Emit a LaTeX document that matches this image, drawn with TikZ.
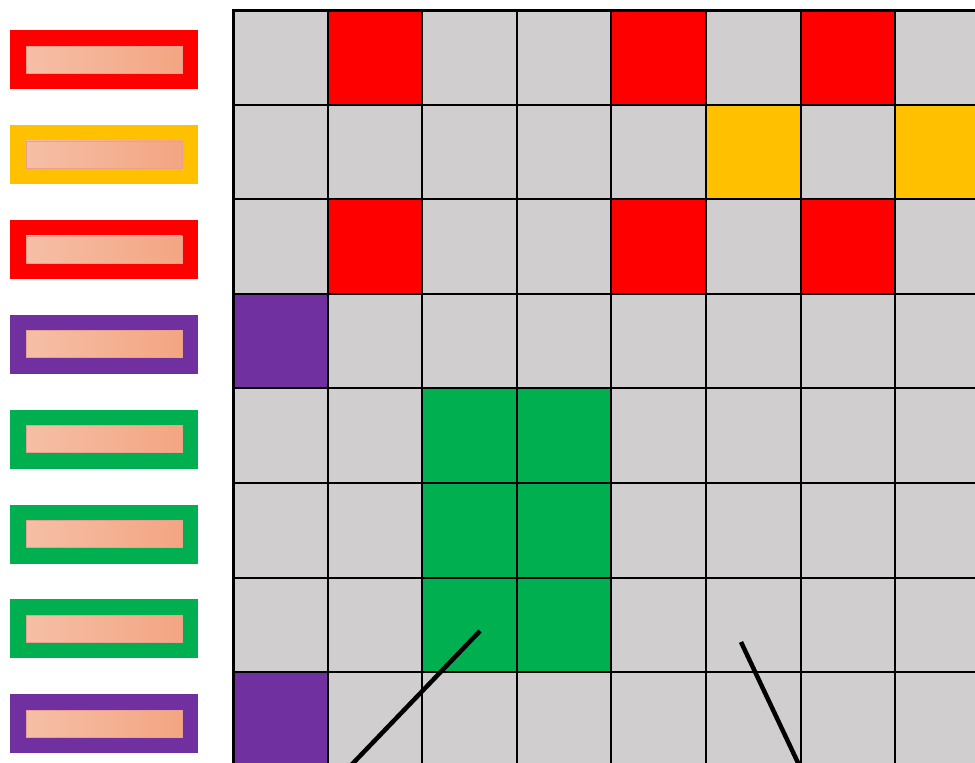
\documentclass[tikz,border=0pt]{standalone}
\definecolor{cgrey}{HTML}{D0CECE}
\definecolor{cred}{HTML}{FF0000}
\definecolor{cyel}{HTML}{FFC000}
\definecolor{cpur}{HTML}{7030A0}
\definecolor{cgrn}{HTML}{00B050}
\definecolor{gl}{HTML}{F5BFA6}
\definecolor{gr}{HTML}{F4A582}
\definecolor{gb}{HTML}{E8A090}
\begin{document}
\begin{tikzpicture}[x=1pt,y=-1pt,
  legbox/.style={fill=#1,draw=none},
  inbox/.style={left color=gl,right color=gr,draw=gb,line width=0.6pt},
  gridline/.style={black,line width=2pt},
  pointer/.style={black,line width=4.5pt}]
\useasboundingbox (0,0) rectangle (975,763);
\clip (0,0) rectangle (975,763);
% legend boxes
\foreach \c [count=\i from 0] in {cred,cyel,cred,cpur,cgrn,cgrn,cgrn,cpur}{
  \pgfmathsetmacro{\yy}{30+\i*94.9}
  \fill[legbox=\c] (10,\yy) rectangle (198,\yy+59);
  \draw[inbox] (26,\yy+16) rectangle (182,\yy+43);
}
% grid cells
\def\cs{94.6}
\fill[cgrey] (233,10) rectangle (990,790);
\foreach \r/\k/\c in {0/1/cred,0/4/cred,0/6/cred,1/5/cyel,1/7/cyel,2/1/cred,2/4/cred,2/6/cred,3/0/cpur,4/2/cgrn,4/3/cgrn,5/2/cgrn,5/3/cgrn,6/2/cgrn,6/3/cgrn,7/0/cpur}{
  \fill[\c] (233+\k*\cs,10+\r*\cs) rectangle (233+\k*\cs+\cs,10+\r*\cs+\cs);
}
\foreach \k in {0,...,8}{
  \draw[gridline] (233+\k*\cs,10) -- (233+\k*\cs,790);
  \draw[gridline] (233,10+\k*\cs) -- (990,10+\k*\cs);
}
\draw[black,line width=3pt] (233,790) -- (233,10) -- (990,10);
% pointers
\coordinate (p1a) at (480,631);
\coordinate (p1b) at (334,783);
\coordinate (p2a) at (741,642);
\coordinate (p2b) at (808,784);
\draw[pointer] (p1a) -- (p1b);
\draw[pointer] (p2a) -- (p2b);
\end{tikzpicture}
\end{document}
